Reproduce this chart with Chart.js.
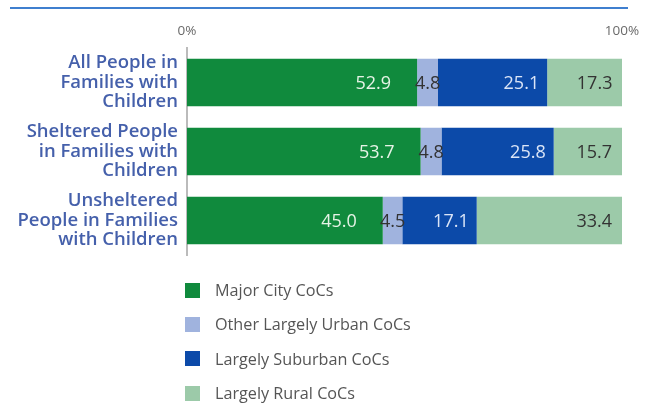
<!DOCTYPE html>
<html>
<head>
<meta charset="utf-8">
<script src="https://cdn.jsdelivr.net/npm/chart.js@4"></script>
<style>
  html, body { margin: 0; padding: 0; background: #fff; }
  #wrap { position: relative; width: 665px; height: 408px; }
  #topline { position: absolute; left: 10px; top: 7px; width: 618px; height: 2px; background: #3f7fcf; }
  #legend { position: absolute; left: 185px; top: 273px; font-family: "Open Sans", sans-serif; font-size: 16.2px; color: #555; }
  #legend div { height: 34.3px; display: flex; align-items: center; }
  #legend span.box { display: inline-block; width: 15px; height: 15px; margin-right: 15px; }
</style>
</head>
<body>
<div id="wrap">
  <div id="topline"></div>
  <canvas id="myChart" width="665" height="408"></canvas>
  <div id="legend"></div>
</div>
<script>
const categories = [
  ['All People in', 'Families with', 'Children'],
  ['Sheltered People', 'in Families with', 'Children'],
  ['Unsheltered', 'People in Families', 'with Children']
]
const seriesNames = ['Major City CoCs', 'Other Largely Urban CoCs', 'Largely Suburban CoCs', 'Largely Rural CoCs']
const majorCity = [52.9, 53.7, 45.0]
const otherUrban = [4.8, 4.8, 4.5]
const suburban = [25.1, 25.8, 17.1]
const rural = [17.3, 15.7, 33.4]
const xTicks = [0, 100]

const colors = ['#108a3d', '#a0b3de', '#0c4aa9', '#9ccaa9']
const labelColors = ['#e6f3e6', '#333333', '#dbe5f7', '#333333']
// how far in from the bar's right end the value sits (null = centered)
const labelInset = [26, null, 8, 10]

const allSeries = [majorCity, otherUrban, suburban, rural]

const barLabels = {
  id: 'barLabels',
  afterDatasetsDraw(chart) {
    const ctx = chart.ctx
    ctx.save()
    ctx.font = '18px "Open Sans", sans-serif'
    ctx.textBaseline = 'middle'
    chart.data.datasets.forEach((ds, i) => {
      const meta = chart.getDatasetMeta(i)
      meta.data.forEach((bar, j) => {
        const txt = ds.data[j].toFixed(1)
        ctx.fillStyle = labelColors[i]
        if (labelInset[i] === null) {
          ctx.textAlign = 'center'
          ctx.fillText(txt, (bar.x + bar.base) / 2, bar.y + 1)
        } else {
          ctx.textAlign = 'right'
          ctx.fillText(txt, bar.x - labelInset[i], bar.y + 1)
        }
      })
    })
    ctx.restore()
  }
}

const chart = new Chart(document.getElementById('myChart'), {
  type: 'bar',
  data: {
    labels: categories,
    datasets: allSeries.map((d, i) => ({
      label: seriesNames[i],
      data: d,
      backgroundColor: colors[i],
      borderWidth: 0,
      barPercentage: 0.69,
      categoryPercentage: 1
    }))
  },
  options: {
    indexAxis: 'y',
    responsive: false,
    animation: false,
    layout: { padding: { top: 0, right: 43, bottom: 153, left: 0 } },
    plugins: { legend: { display: false }, tooltip: { enabled: false } },
    scales: {
      x: {
        stacked: true,
        position: 'top',
        min: 0,
        max: 100,
        afterBuildTicks: s => { s.ticks = xTicks.map(v => ({ value: v })) },
        afterFit: s => { s.height = 48 },
        grid: { display: false, drawTicks: false },
        border: { display: false },
        ticks: {
          padding: 9,
          color: '#6a6a6a',
          font: { family: 'Open Sans', size: 13.5 },
          callback: v => v + '%'
        }
      },
      y: {
        stacked: true,
        afterFit: s => { s.width = 187 },
        grid: { display: false, drawTicks: false },
        border: { display: true, color: '#bbb', width: 2 },
        ticks: {
          padding: 9,
          color: '#4560ab',
          font: { family: 'Open Sans', size: 18.5, weight: '600', lineHeight: 1.06 }
        }
      }
    }
  },
  plugins: [barLabels]
})

const legend = document.getElementById('legend')
seriesNames.forEach((name, i) => {
  const row = document.createElement('div')
  row.innerHTML = '<span class="box" style="background:' + colors[i] + '"></span><span>' + name + '</span>'
  legend.appendChild(row)
})
</script>
</body>
</html>
